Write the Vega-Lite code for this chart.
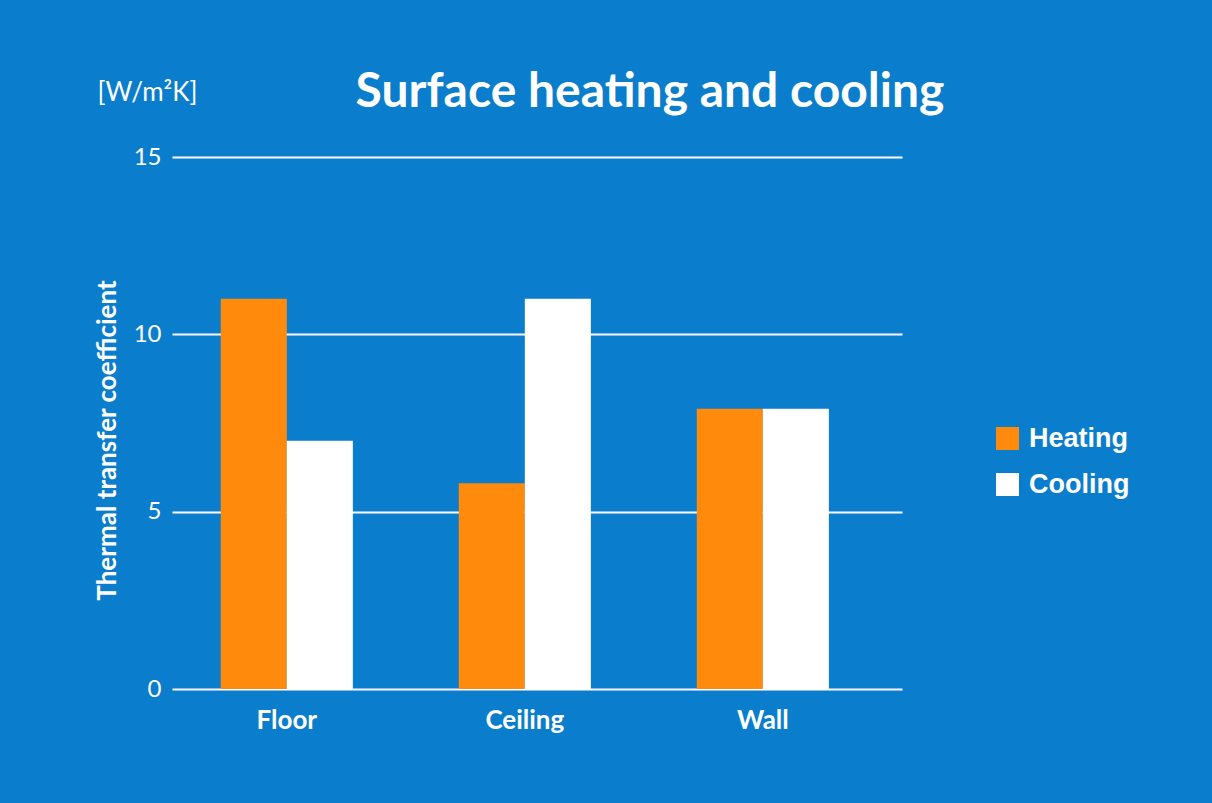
{
  "$schema": "https://vega.github.io/schema/vega-lite/v6.json",
  "autosize": "none",
  "padding": {"left": 172, "top": 157, "right": 310, "bottom": 114},
  "width": 730,
  "height": 532,
  "background": "#0a7dcc",
  "title": {
    "text": "Surface heating and cooling",
    "font": "Lato",
    "fontSize": 48,
    "fontWeight": "bold",
    "color": "white",
    "anchor": "middle",
    "frame": "group",
    "dx": 113,
    "dy": 48,
    "offset": 10
  },
  "data": {
    "values": [
      {"surface": "Floor", "mode": "Heating", "value": 11},
      {"surface": "Floor", "mode": "Cooling", "value": 7},
      {"surface": "Ceiling", "mode": "Heating", "value": 5.8},
      {"surface": "Ceiling", "mode": "Cooling", "value": 11},
      {"surface": "Wall", "mode": "Heating", "value": 7.9},
      {"surface": "Wall", "mode": "Cooling", "value": 7.9}
    ]
  },
  "mark": {"type": "bar"},
  "encoding": {
    "x": {
      "field": "surface",
      "type": "nominal",
      "sort": ["Floor", "Ceiling", "Wall"],
      "scale": {"paddingInner": 0.445, "paddingOuter": 0.256, "align": 0.4},
      "axis": {
        "title": "[W/m²K]",
        "titleX": -75,
        "titleY": -597,
        "titleAngle": 0,
        "titleAlign": "left",
        "titleBaseline": "middle",
        "titleFont": "Lato",
        "titleFontSize": 26,
        "titleFontWeight": "normal",
        "titleColor": "white",
        "labelAngle": 0,
        "labelFont": "Lato",
        "labelFontSize": 26,
        "labelFontWeight": "bold",
        "labelColor": "white",
        "labelPadding": 18,
        "domain": false,
        "ticks": false,
        "grid": false
      }
    },
    "xOffset": {
      "field": "mode",
      "type": "nominal",
      "sort": ["Heating", "Cooling"],
      "scale": {"paddingInner": 0, "paddingOuter": 0}
    },
    "y": {
      "field": "value",
      "type": "quantitative",
      "scale": {"domain": [0, 15], "nice": false},
      "axis": {
        "values": [0, 5, 10, 15],
        "title": "Thermal transfer coefficient",
        "titleFont": "Lato",
        "titleFontSize": 26,
        "titleFontWeight": "bold",
        "titleColor": "white",
        "titleAngle": -90,
        "titleX": -65,
        "titleY": 283,
        "titleAlign": "center",
        "titleBaseline": "middle",
        "labelFont": "Lato",
        "labelFontSize": 24,
        "labelFontWeight": "normal",
        "labelColor": "white",
        "labelPadding": 11,
        "domain": false,
        "ticks": false,
        "grid": true,
        "gridColor": "white",
        "gridWidth": 2,
        "gridOpacity": 1
      }
    },
    "color": {
      "field": "mode",
      "type": "nominal",
      "sort": ["Heating", "Cooling"],
      "scale": {"domain": ["Heating", "Cooling"], "range": ["#ff8a0c", "#ffffff"]},
      "legend": {
        "title": null,
        "orient": "none",
        "legendX": 822,
        "legendY": 268,
        "symbolType": "square",
        "symbolSize": 529,
        "symbolStrokeWidth": 0,
        "labelFont": "Liberation Sans",
        "labelFontSize": 27,
        "labelFontWeight": "bold",
        "labelColor": "white",
        "labelOffset": 8,
        "rowPadding": 18
      }
    }
  },
  "config": {
    "view": {"stroke": null}
  }
}
